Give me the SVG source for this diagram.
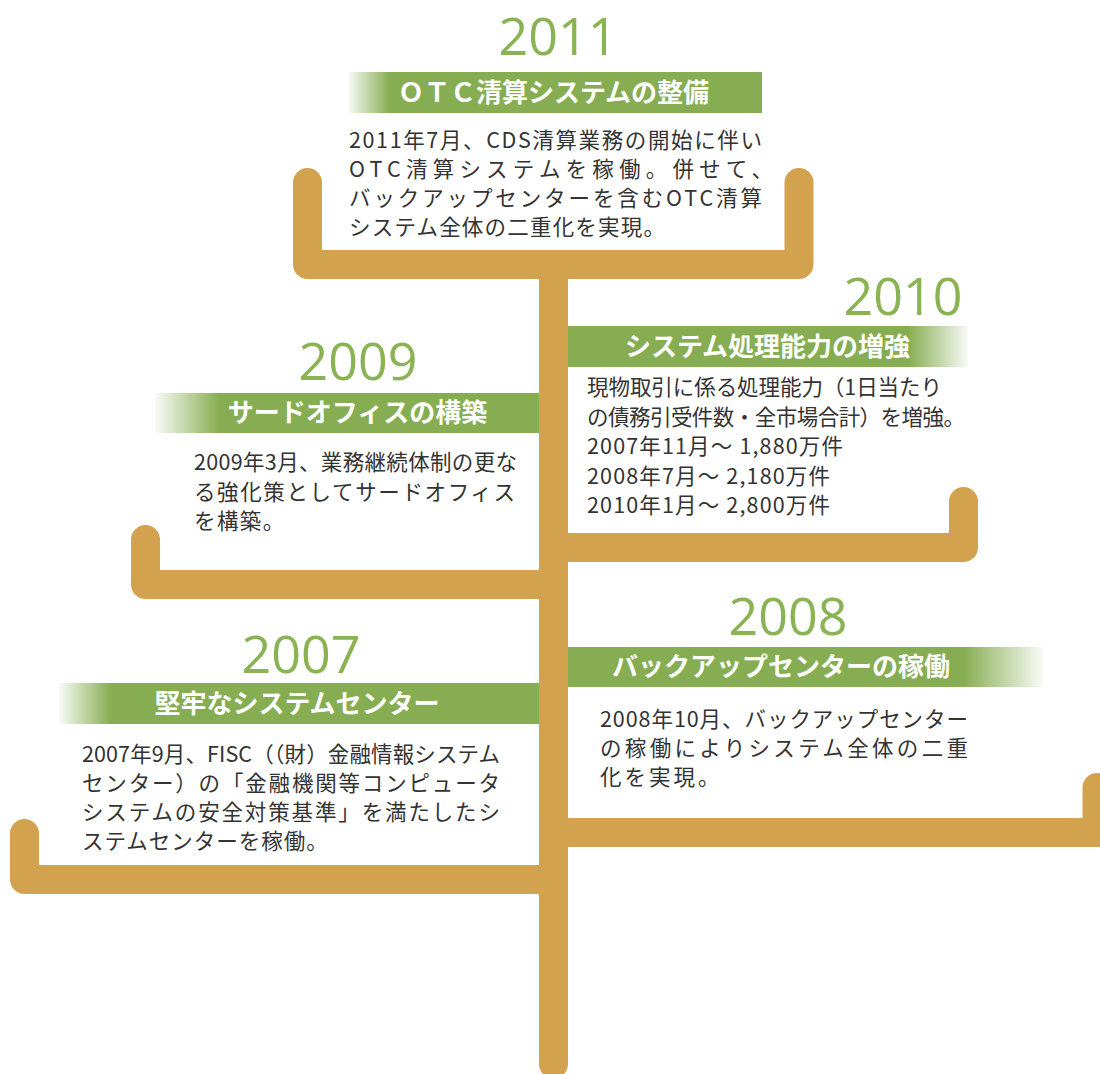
<svg xmlns="http://www.w3.org/2000/svg" width="1100" height="1074" viewBox="0 0 1100 1074">
<defs>
<linearGradient id="fadeL" x1="0" y1="0" x2="1" y2="0">
<stop offset="0" stop-color="#fff" stop-opacity="0.95"/>
<stop offset="1" stop-color="#fff" stop-opacity="0"/>
</linearGradient>
<linearGradient id="fadeR" x1="0" y1="0" x2="1" y2="0">
<stop offset="0" stop-color="#fff" stop-opacity="0"/>
<stop offset="1" stop-color="#fff" stop-opacity="0.95"/>
</linearGradient>
<style>
.arm{fill:none;stroke:#D3A24F;stroke-width:29;stroke-linecap:round;stroke-linejoin:round}
.trunk{fill:none;stroke:#D3A24F;stroke-width:29;stroke-linecap:round}
.bar{fill:#86AD51}
.yr{font-family:"Open Sans","Noto Sans",sans-serif;font-size:52px;fill:#8AB453;text-anchor:middle}
.hd{font-family:"Noto Sans CJK JP",sans-serif;font-weight:700;font-size:26px;fill:#fff;text-anchor:middle}
.bd{font-family:"Noto Sans CJK JP",sans-serif;font-size:21.5px;fill:#333}
</style>
</defs>
<rect width="1100" height="1074" fill="#fff"/>
<g id="connectors">
<path class="trunk" d="M553.5 264.5 V1064"/>
<path class="arm" d="M307.5 182.5 V264.5 H799 V182.5"/>
<path class="arm" d="M553.5 547.5 H963.5 V501.5"/>
<path class="arm" d="M553.5 584.5 H145.5 V539.5"/>
<path class="arm" d="M553.5 832.5 H1097 V787.5"/>
<path class="arm" d="M553.5 879.5 H24.5 V833.5"/>
</g>
<g id="node-2011">
<text class="yr" x="558" y="55">2011</text>
<rect class="bar" x="348" y="72" width="414" height="41"/>
<rect fill="url(#fadeL)" x="348" y="72" width="42" height="41"/>
<text class="hd" x="553.5" y="101.5">ＯＴＣ清算システムの整備</text>
<text class="bd" x="349" y="147.5" textLength="413" lengthAdjust="spacing">2011年7月、CDS清算業務の開始に伴い</text>
<text class="bd" x="349" y="177" textLength="424" lengthAdjust="spacing">OTC清算システムを稼働。併せて、</text>
<text class="bd" x="349" y="206" textLength="413" lengthAdjust="spacing">バックアップセンターを含むOTC清算</text>
<text class="bd" x="349" y="235" letter-spacing="1.2">システム全体の二重化を実現。</text>
</g>
<g id="node-2010">
<text class="yr" x="903" y="315">2010</text>
<rect class="bar" x="568" y="326" width="400" height="41"/>
<rect fill="url(#fadeR)" x="908" y="326" width="60" height="41"/>
<text class="hd" x="767.5" y="355.5">システム処理能力の増強</text>
<text class="bd" x="587" y="395" textLength="355" lengthAdjust="spacing">現物取引に係る処理能力（1日当たり</text>
<text class="bd" x="587" y="424.5" textLength="378" lengthAdjust="spacing">の債務引受件数・全市場合計）を増強。</text>
<text class="bd" x="587" y="454" textLength="256" lengthAdjust="spacing">2007年11月～ 1,880万件</text>
<text class="bd" x="587" y="483.5" textLength="243" lengthAdjust="spacing">2008年7月～ 2,180万件</text>
<text class="bd" x="587" y="513" textLength="243" lengthAdjust="spacing">2010年1月～ 2,800万件</text>
</g>
<g id="node-2009">
<text class="yr" x="358" y="380">2009</text>
<rect class="bar" x="155" y="393" width="384" height="40"/>
<rect fill="url(#fadeL)" x="155" y="393" width="65" height="40"/>
<text class="hd" x="357.5" y="422">サードオフィスの構築</text>
<text class="bd" x="194" y="470" textLength="323" lengthAdjust="spacing">2009年3月、業務継続体制の更な</text>
<text class="bd" x="194" y="499.5" textLength="321" lengthAdjust="spacing">る強化策としてサードオフィス</text>
<text class="bd" x="194" y="529" letter-spacing="1.4">を構築。</text>
</g>
<g id="node-2008">
<text class="yr" x="788" y="635">2008</text>
<rect class="bar" x="568" y="647" width="475" height="40"/>
<rect fill="url(#fadeR)" x="963" y="647" width="80" height="40"/>
<text class="hd" x="781" y="676">バックアップセンターの稼働</text>
<text class="bd" x="600" y="727" textLength="368" lengthAdjust="spacing">2008年10月、バックアップセンター</text>
<text class="bd" x="600" y="756" textLength="368" lengthAdjust="spacing">の稼働によりシステム全体の二重</text>
<text class="bd" x="600" y="785" letter-spacing="3">化を実現。</text>
</g>
<g id="node-2007">
<text class="yr" x="301" y="673">2007</text>
<rect class="bar" x="59" y="683" width="480" height="41"/>
<rect fill="url(#fadeL)" x="59" y="683" width="52" height="41"/>
<text class="hd" x="297" y="712.5">堅牢なシステムセンター</text>
<text class="bd" x="82" y="762" textLength="418" lengthAdjust="spacing">2007年9月、FISC（（財）金融情報システム</text>
<text class="bd" x="82" y="791" textLength="418" lengthAdjust="spacing">センター）の「金融機関等コンピュータ</text>
<text class="bd" x="82" y="820" textLength="418" lengthAdjust="spacing">システムの安全対策基準」を満たしたシ</text>
<text class="bd" x="82" y="849" letter-spacing="1">ステムセンターを稼働。</text>
</g>
</svg>
